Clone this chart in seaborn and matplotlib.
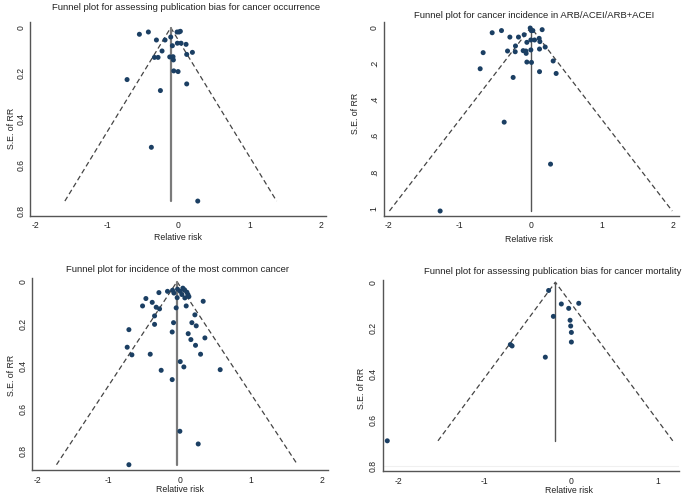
import numpy as np
import pandas as pd
import matplotlib
matplotlib.use("Agg")
import matplotlib.pyplot as plt
import seaborn as sns

# ---- data ----
# panel 1: cancer occurrence
p1_rr = [-0.545, -0.419, -0.306, -0.185, -0.105, -0.016, 0.012, 0.030, -0.082, -0.012,
         0.040, 0.110, -0.227, -0.334, -0.283, -0.119, -0.073, -0.068, 0.119, 0.199,
         -0.063, -0.002, -0.718, 0.119, -0.250, -0.377, 0.274]
p1_se = [0.029, 0.019, 0.054, 0.054, 0.041, 0.019, 0.019, 0.016, 0.079, 0.068,
         0.068, 0.073, 0.102, 0.130, 0.130, 0.128, 0.127, 0.141, 0.117, 0.108,
         0.189, 0.192, 0.227, 0.246, 0.275, 0.523, 0.758]
p1_center = -0.105

# panel 2: ARB/ACEI/ARB+ACEI
p2_rr = [-0.544, -0.413, -0.295, -0.174, -0.094, -0.009, 0.005, 0.028, 0.159, -0.056,
         0.000, 0.052, 0.117, 0.127, -0.216, -0.328, -0.220, -0.671, -0.108, -0.070,
         -0.066, 0.000, 0.122, 0.202, -0.056, 0.009, 0.314, -0.713, 0.122, 0.356,
         -0.249, -0.375, 0.277, -1.276]
p2_se = [0.030, 0.018, 0.054, 0.054, 0.041, 0.004, 0.018, 0.018, 0.013, 0.083,
         0.070, 0.070, 0.061, 0.079, 0.103, 0.131, 0.135, 0.140, 0.129, 0.131,
         0.144, 0.125, 0.120, 0.109, 0.192, 0.194, 0.186, 0.229, 0.245, 0.255,
         0.277, 0.524, 0.756, 1.015]
p2_center = 0.0

# panel 3: most common cancer
p3_rr = [-0.174, -0.295, -0.103, -0.084, -0.033, 0.005, 0.042, 0.066, 0.098, 0.113,
         0.127, 0.070, -0.038, 0.028, -0.478, -0.389, -0.525, -0.333, -0.286, -0.052,
         0.089, 0.328, -0.356, 0.211, -0.356, -0.089, 0.169, 0.230, -0.717, -0.108,
         0.117, 0.155, 0.352, 0.220, -0.741, -0.675, -0.417, 0.291, 0.005, 0.056,
         -0.263, 0.567, -0.108, 0.000, 0.258, -0.717]
p3_se = [0.046, 0.052, 0.041, 0.054, 0.036, 0.046, 0.031, 0.039, 0.050, 0.061,
         0.071, 0.077, 0.076, 0.061, 0.080, 0.098, 0.115, 0.121, 0.129, 0.124,
         0.115, 0.093, 0.162, 0.157, 0.202, 0.194, 0.194, 0.209, 0.227, 0.238,
         0.246, 0.274, 0.266, 0.301, 0.310, 0.346, 0.343, 0.343, 0.378, 0.403,
         0.419, 0.416, 0.463, 0.707, 0.767, 0.865]
p3_center = -0.04

# panel 4: cancer mortality
p4_rr = [-0.263, -0.116, 0.085, -0.031, -0.208, -0.015, -0.008, 0.000, 0.000,
         -0.705, -0.685, -0.301, -2.127]
p4_se = [0.036, 0.095, 0.092, 0.114, 0.149, 0.166, 0.191, 0.219, 0.261,
         0.272, 0.278, 0.327, 0.692]
p4_center = -0.185

titles = ["Funnel plot for assessing publication bias for cancer occurrence",
          "Funnel plot for cancer incidence in ARB/ACEI/ARB+ACEI",
          "Funnel plot for incidence of the most common cancer",
          "Funnel plot for assessing publication bias for cancer mortality"]

W, H = 685, 497
sns.set_style("white")
plt.rcParams['font.family'] = ['Liberation Sans', 'DejaVu Sans']
fig = plt.figure(figsize=(W / 100, H / 100), dpi=100)

def px_axes(l, t, r, b):
    return fig.add_axes([l / W, (H - b) / H, (r - l) / W, (b - t) / H])

def px_text(x, y, s, **kw):
    fig.text(x / W, (H - y) / H, s, ha="center", va="center", color="#222222", **kw)

panels = [
    dict(rr=p1_rr, se=p1_se, c=p1_center, box=(30.3, 21.7, 326, 215.7),
         xlim=(-2.076, 2.074), ylim=(0.822, -0.026), xt=[-2, -1, 0, 1, 2],
         yt=[0, 0.2, 0.4, 0.6, 0.8], ytl=["0", "0.2", "0.4", "0.6", "0.8"],
         vline=("#7a7a7a", 1.6), title=(186, 8), ylab=(11, 128), xlab=(178, 238),
         grid=False),
    dict(rr=p2_rr, se=p2_se, c=p2_center, box=(383.7, 21.7, 678.7, 215.7),
         xlim=(-2.07, 2.08), ylim=(1.041, -0.031), xt=[-2, -1, 0, 1, 2],
         yt=[0, 0.2, 0.4, 0.6, 0.8, 1.0], ytl=["0", ".2", ".4", ".6", ".8", "1"],
         vline=("#555555", 1.0), title=(534, 15), ylab=(356, 113), xlab=(529, 239),
         grid=False),
    dict(rr=p3_rr, se=p3_se, c=p3_center, box=(32.3, 278, 328.3, 470),
         xlim=(-2.076, 2.088), ylim=(0.89, -0.017), xt=[-2, -1, 0, 1, 2],
         yt=[0, 0.2, 0.4, 0.6, 0.8], ytl=["0", "0.2", "0.4", "0.6", "0.8"],
         vline=("#7a7a7a", 1.6), title=(178, 270), ylab=(11, 375), xlab=(180, 489.5),
         grid=False),
    dict(rr=p4_rr, se=p4_se, c=p4_center, box=(382.7, 279.7, 678.7, 471.3),
         xlim=(-2.18, 1.24), ylim=(0.825, -0.011), xt=[-2, -1, 0, 1],
         yt=[0, 0.2, 0.4, 0.6, 0.8], ytl=["0", "0.2", "0.4", "0.6", "0.8"],
         vline=("#555555", 1.0), title=(553, 271), ylab=(362, 388), xlab=(569, 490.5),
         grid=True),
]

for p, title in zip(panels, titles):
    ax = px_axes(*p["box"])
    df = pd.DataFrame({"rr": p["rr"], "se": p["se"]})
    semax = df["se"].max()
    c = p["c"]
    if p["grid"]:
        ax.axhline(0.8, color="#f0f0f0", lw=0.8, zorder=0)
    # pseudo 95% confidence limits
    ax.plot([c - 1.96 * semax, c, c + 1.96 * semax], [semax, 0, semax],
            ls=(0, (4, 2.5)), color="#444444", lw=0.9, zorder=1)
    ax.plot([c, c], [0, semax], color=p["vline"][0], lw=p["vline"][1], zorder=1)
    sns.scatterplot(data=df, x="rr", y="se", ax=ax, color="#1b3f63", s=13,
                    edgecolor="none", zorder=3, legend=False)
    ax.set_xlim(*p["xlim"])
    ax.set_ylim(*p["ylim"])
    ax.set_xticks(p["xt"])
    ax.set_xticklabels([str(v) for v in p["xt"]])
    ax.set_yticks(p["yt"])
    ax.set_yticklabels(p["ytl"], rotation=90, va="center")
    ax.set_xlabel("")
    ax.set_ylabel("")
    for side in ["top", "right"]:
        ax.spines[side].set_visible(False)
    for side in ["left", "bottom"]:
        ax.spines[side].set_color("#555555")
        ax.spines[side].set_linewidth(1.0)
    ax.tick_params(axis="both", direction="out", length=3, width=0.8,
                   color="#555555", labelsize=6.2, labelcolor="#222222", pad=1)
    ax.tick_params(axis="y", pad=0.5)
    px_text(*p["title"], title, fontsize=6.8)
    px_text(*p["ylab"], "S.E. of RR", fontsize=6.3, rotation=90)
    px_text(*p["xlab"], "Relative risk", fontsize=6.3)

fig.savefig("out.png", dpi=100)
